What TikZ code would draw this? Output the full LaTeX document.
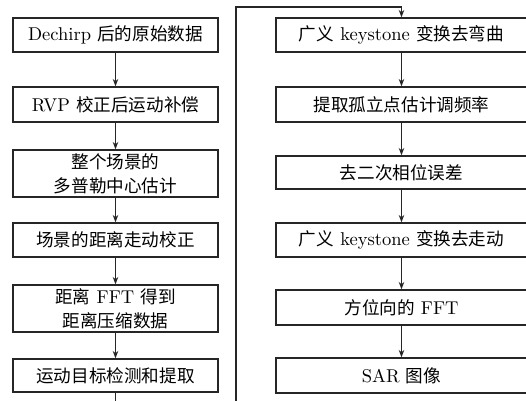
\documentclass[tikz,border=0pt]{standalone}
\usepackage{fontspec}
\newfontfamily\cjk[Scale=0.95]{Noto Sans CJK SC}
\usetikzlibrary{arrows.meta}
\def\upx{0.54pt}
\begin{document}
\begin{tikzpicture}[x=\upx,y=-\upx,
  box/.style={draw=black!85,line width=0.75pt,inner sep=0pt,align=center,
    font=\fontsize{10}{13}\selectfont},
  lbox/.style={box,minimum width=205*\upx},
  rbox/.style={box,minimum width=251*\upx},
  conn/.style={draw=black!85,line width=0.75pt},
  arr/.style={conn,-{Stealth[length=4pt,width=3pt]}}]
\useasboundingbox (0,0) rectangle (526,401);
\clip (0,0) rectangle (526,401);
\fill[white] (0,0) rectangle (526,401);
% left column
\node[lbox,minimum height=34*\upx] (l1) at (115.5,35) {Dechirp {\cjk 后的原始数据}};
\node[lbox,minimum height=35*\upx] (l2) at (115.5,104.5) {RVP {\cjk 校正后运动补偿}};
\node[lbox,minimum height=47*\upx] (l3) at (115.5,173.5) {{\cjk 整个场景的}\\{\cjk 多普勒中心估计}};
\node[lbox,minimum height=34*\upx] (l4) at (115.5,240) {{\cjk 场景的距离走动校正}};
\node[lbox,minimum height=47*\upx] (l5) at (115.5,308.5) {{\cjk 距离} FFT {\cjk 得到}\\{\cjk 距离压缩数据}};
\node[lbox,minimum height=33*\upx] (l6) at (115.5,375.5) {{\cjk 运动目标检测和提取}};
% right column
\node[rbox,minimum height=34*\upx] (r1) at (401.5,35) {{\cjk 广义} keystone {\cjk 变换去弯曲}};
\node[rbox,minimum height=35*\upx] (r2) at (401.5,104.5) {{\cjk 提取孤立点估计调频率}};
\node[rbox,minimum height=33*\upx] (r3) at (401.5,172.5) {{\cjk 去二次相位误差}};
\node[rbox,minimum height=34*\upx] (r4) at (401.5,240) {{\cjk 广义} keystone {\cjk 变换去走动}};
\node[rbox,minimum height=35*\upx] (r5) at (401.5,307.5) {{\cjk 方位向的} FFT};
\node[rbox,minimum height=35*\upx] (r6) at (401.5,375.5) {SAR {\cjk 图像}};
% connectors
\draw[arr] (l1) -- (l2);
\draw[arr] (l2) -- (l3);
\draw[arr] (l3) -- (l4);
\draw[arr] (l4) -- (l5);
\draw[arr] (l5) -- (l6);
\coordinate (lend) at (115.5,402);
\draw[conn] (l6.south) -- (lend);
\coordinate (bot) at (236,402);
\coordinate (top) at (236,7);
\draw[arr] (bot) -- (top) -| (r1.north);
\draw[arr] (r1) -- (r2);
\draw[arr] (r2) -- (r3);
\draw[arr] (r3) -- (r4);
\draw[arr] (r4) -- (r5);
\draw[arr] (r5) -- (r6);
\end{tikzpicture}
\end{document}
